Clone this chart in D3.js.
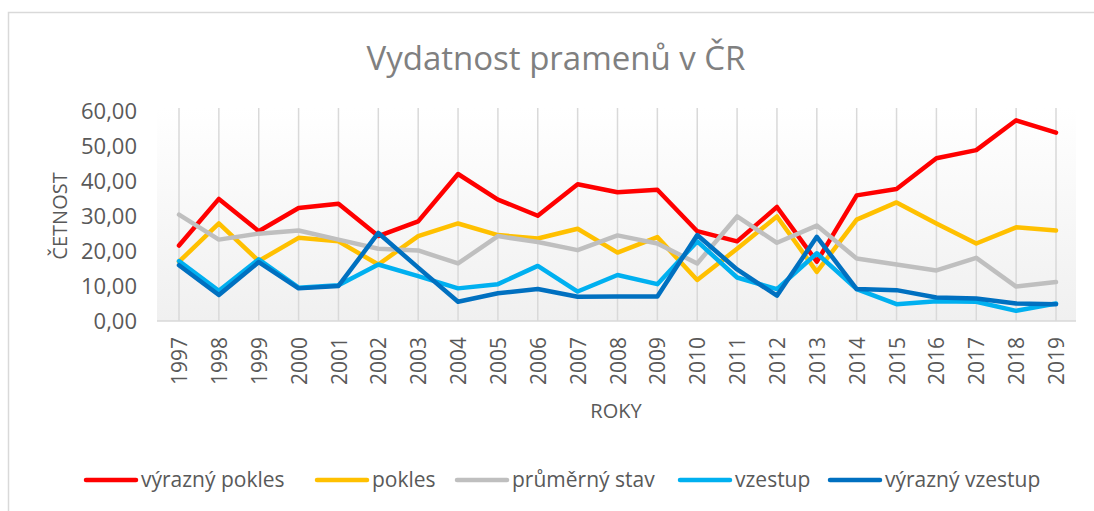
<!DOCTYPE html>
<html><head><meta charset="utf-8">
<script src="https://cdn.jsdelivr.net/npm/d3@7"></script>
<style>body{margin:0;background:#fff;}svg{display:block;font-family:"Open Sans",sans-serif;}</style>
</head><body><svg id="c" width="1094" height="511"></svg>
<script>
const years = ["1997","1998","1999","2000","2001","2002","2003","2004","2005","2006","2007","2008","2009","2010","2011","2012","2013","2014","2015","2016","2017","2018","2019"];
const vyraznyPokles = [21.5,34.8,25.6,32.2,33.4,24.2,28.4,41.9,34.6,30.0,39.0,36.7,37.4,25.6,22.7,32.5,16.9,35.8,37.6,46.4,48.7,57.2,53.7];
const pokles        = [16.9,27.8,17.1,23.7,22.7,16.1,24.2,27.8,24.5,23.5,26.3,19.5,23.9,11.7,20.6,29.8,14.0,28.9,33.8,27.8,22.1,26.7,25.8];
const prumernyStav  = [30.3,23.2,24.9,25.8,23.2,20.6,20.1,16.4,24.2,22.5,20.2,24.4,22.1,16.4,29.8,22.3,27.2,17.8,16.1,14.4,18.0,9.8,11.1];
const vzestup       = [17.1,8.6,17.6,9.5,10.2,16.1,12.8,9.3,10.5,15.7,8.4,13.1,10.5,22.7,12.4,9.1,19.3,9.1,4.8,5.6,5.5,2.9,5.0];
const vyraznyVzestup= [15.9,7.4,16.8,9.3,10.0,25.1,15.2,5.5,7.9,9.1,6.9,7.0,7.0,24.5,14.7,7.2,24.0,9.1,8.8,6.7,6.4,5.0,4.8];
const yTicks = [0,10,20,30,40,50,60];
const seriesNames = ["výrazný pokles","pokles","průměrný stav","vzestup","výrazný vzestup"];
const seriesColors = ["#ff0000","#ffc000","#bfbfbf","#00b0f0","#0070c0"];
const seriesData = [vyraznyPokles,pokles,prumernyStav,vzestup,vyraznyVzestup];

const svg = d3.select("#c");
const pl = 157, pr = 1076, pt = 108, pb = 321;

// chart border
svg.append("rect").attr("x",8.5).attr("y",12.5).attr("width",1100).attr("height",520)
  .attr("fill","#fff").attr("stroke","#d9d9d9").attr("stroke-width",1.5);

const defs = svg.append("defs");
const g = defs.append("linearGradient").attr("id","bg").attr("x1",0).attr("y1",0).attr("x2",0).attr("y2",1);
g.append("stop").attr("offset","0%").attr("stop-color","#ffffff");
g.append("stop").attr("offset","100%").attr("stop-color","#f0f0f0");
svg.append("rect").attr("x",pl).attr("y",pt).attr("width",pr-pl).attr("height",pb-pt).attr("fill","url(#bg)");

const x = d3.scalePoint().domain(years).range([179,1056]);
const y = d3.scaleLinear().domain([0,60]).range([pb,110.5]);

// vertical gridlines
svg.append("g").selectAll("line").data(years).join("line")
  .attr("x1",d=>x(d)).attr("x2",d=>x(d)).attr("y1",pt).attr("y2",pb)
  .attr("stroke","#d9d9d9").attr("stroke-width",1.5);

// x axis
const xa = svg.append("g").attr("transform",`translate(0,${pb})`)
  .call(d3.axisBottom(x).tickSize(0).tickPadding(0));
xa.select(".domain").attr("d",`M${pl},0H${pr}`).attr("stroke","#d9d9d9").attr("stroke-width",1.5);
xa.selectAll("text").attr("transform","rotate(-90)").attr("text-anchor","end")
  .attr("x",-16).attr("y",0).attr("dy","0.36em")
  .attr("font-size",21).attr("fill","#595959").attr("font-family","Open Sans");

// y axis
const ya = svg.append("g").attr("transform",`translate(137,0)`)
  .call(d3.axisLeft(y).tickValues(yTicks).tickSize(0).tickPadding(0).tickFormat(d=>d3.format(".2f")(d).replace(".",",")));
ya.select(".domain").remove();
ya.selectAll("text").attr("font-size",22).attr("fill","#595959").attr("font-family","Open Sans").attr("dy","0.35em");

// lines
const line = d3.line().x((d,i)=>x(years[i])).y(d=>y(d));
seriesData.forEach((s,k)=>{
  svg.append("path").datum(s).attr("d",line).attr("fill","none")
    .attr("stroke",seriesColors[k]).attr("stroke-width",4.5)
    .attr("stroke-linejoin","round").attr("stroke-linecap","round");
});

// title
svg.append("text").attr("x",556).attr("y",70).attr("text-anchor","middle")
  .attr("font-size",33).attr("fill","#808080").text("Vydatnost pramenů v ČR");
// axis titles
svg.append("text").attr("transform","translate(67,216) rotate(-90)").attr("text-anchor","middle")
  .attr("font-size",20).attr("fill","#595959").text("ČETNOST");
svg.append("text").attr("x",616).attr("y",418).attr("text-anchor","middle")
  .attr("font-size",20).attr("fill","#595959").text("ROKY");

// legend
const legX = [86,317,457,680,830];
const lg = svg.append("g");
seriesNames.forEach((n,k)=>{
  lg.append("line").attr("x1",legX[k]).attr("x2",legX[k]+50).attr("y1",480).attr("y2",480)
    .attr("stroke",seriesColors[k]).attr("stroke-width",4.5).attr("stroke-linecap","round");
  lg.append("text").attr("x",legX[k]+55).attr("y",487).attr("font-size",21).attr("fill","#595959").text(n);
});
</script></body></html>
